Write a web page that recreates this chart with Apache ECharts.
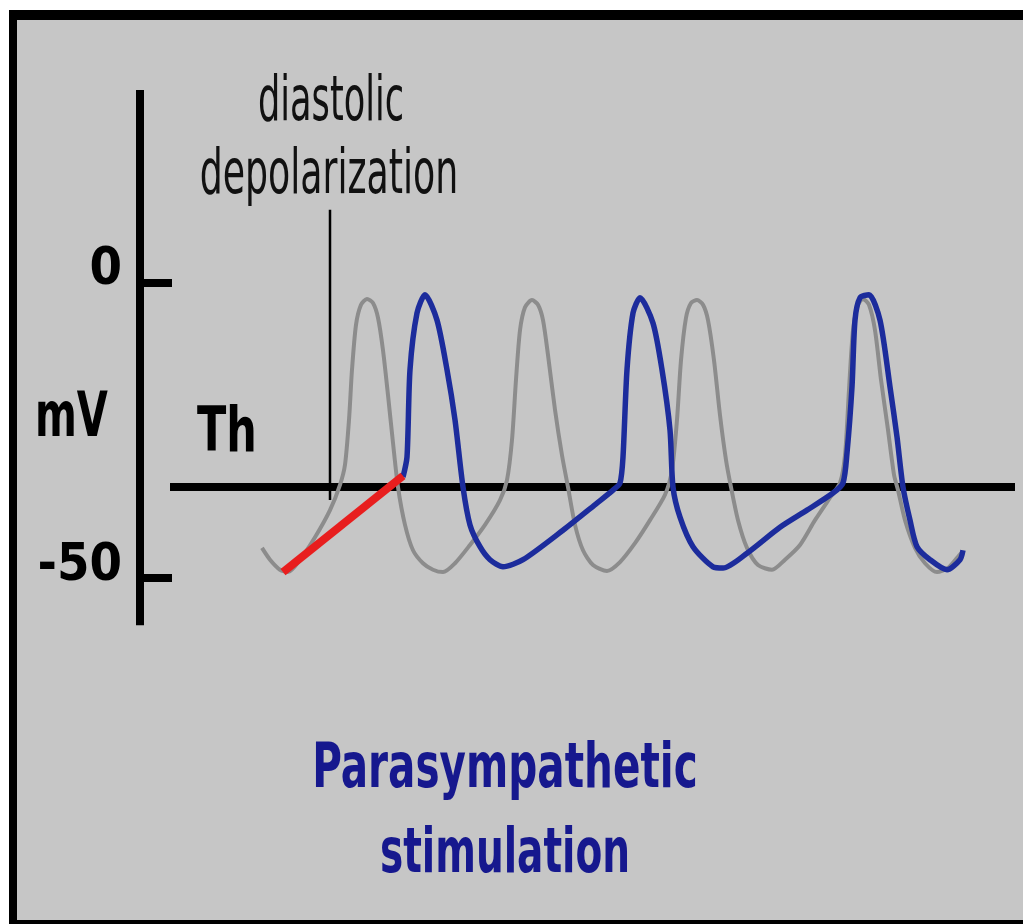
<!DOCTYPE html>
<html>
<head>
<meta charset="utf-8">
<style>
  html, body { margin: 0; padding: 0; background: #fff; }
  #main { width: 1023px; height: 924px; }
</style>
</head>
<body>
<div id="main"></div>
<script src="https://cdn.jsdelivr.net/npm/echarts@6/dist/echarts.min.js"></script>
<script type="text/javascript">
    // time (arbitrary units) and membrane potential (mV)
    var normalTrace = [
        [122,-44.9],[130,-46.9],[140,-48.6],[148,-49.0],[160,-46.9],[175,-43.1],[190,-38.5],[200,-34.2],
        [205,-30.8],[209,-23.2],[212,-14.7],[216,-7.1],[221,-3.7],[227,-2.7],[233,-3.4],[238,-5.9],
        [243,-11.4],[248,-19.0],[253,-27.1],[258,-34.6],[265,-41.0],[273,-45.3],[283,-47.5],[293,-48.6],
        [303,-49.0],[315,-47.5],[330,-44.4],[345,-41.0],[360,-36.8],[367,-33.4],[372,-26.6],[376,-16.4],
        [380,-8.0],[385,-4.1],[392,-2.9],[398,-3.7],[403,-6.3],[408,-12.2],[415,-21.5],[422,-29.2],
        [428,-34.6],[435,-41.0],[443,-45.3],[453,-47.8],[467,-48.8],[480,-47.3],[495,-44.1],[510,-40.2],
        [525,-35.9],[532,-31.7],[537,-23.2],[541,-13.1],[546,-5.9],[551,-3.4],[557,-2.9],[563,-3.7],
        [568,-6.3],[574,-13.1],[580,-22.4],[586,-30.0],[591,-34.6],[598,-40.2],[607,-44.9],[618,-47.8],
        [632,-48.6],[645,-46.9],[660,-44.4],[675,-40.2],[690,-36.4],[700,-33.9],[705,-29.2],[709,-18.1],
        [713,-8.0],[718,-3.7],[723,-2.7],[729,-3.7],[735,-8.0],[741,-16.4],[748,-24.9],[754,-32.5],
        [758,-35.1],[765,-40.2],[775,-44.9],[785,-47.5],[797,-49.0],[808,-48.3],[818,-46.4],[823,-45.5]
    ];
    var diastolicSlope = [[143,-49.0],[263,-32.7]];
    var vagalTrace = [
        [263,-32.9],[267,-29.5],[270,-14.7],[277,-5.1],[285,-2.0],[297,-6.3],[307,-14.7],[315,-23.2],
        [323,-34.6],[330,-41.0],[340,-44.7],[350,-46.9],[363,-48.1],[383,-46.9],[423,-41.9],[457,-37.3],
        [473,-35.1],[480,-33.9],[483,-29.5],[487,-14.7],[493,-5.1],[500,-2.5],[513,-6.8],[522,-14.7],
        [530,-24.9],[533,-34.6],[540,-39.7],[553,-44.7],[573,-48.1],[583,-48.3],[607,-45.8],[640,-41.4],
        [667,-38.5],[693,-35.6],[703,-33.9],[707,-28.8],[712,-17.6],[715,-6.3],[720,-2.5],[729,-2.0],
        [740,-6.3],[750,-17.6],[757,-26.1],[763,-34.6],[770,-40.2],[777,-44.7],[790,-46.9],[807,-48.6],
        [820,-46.9],[823,-45.3]
    ];
    var thresholdLine = [[30,-34.6],[875,-34.6]];
    var markerLine = [[190,12.4],[190,-36.8]];
    var tickValues = [0, -50];

    var narrow = "'DejaVu Sans Condensed', 'DejaVu Sans', sans-serif";

    // squeezed text label, y is the middle of the line box
    function label(txt, x, y, size, sx, bold, color, align) {
        return {
            type: 'text', z: 10, x: x, y: y, scaleX: sx,
            style: {
                text: txt,
                font: (bold ? 'bold ' : '') + size + 'px ' + narrow,
                fill: color,
                textAlign: align,
                textVerticalAlign: 'middle'
            }
        };
    }

    var myChart = echarts.init(document.getElementById('main'));
    var option = {
        backgroundColor: '#ffffff',
        animation: false,
        grid: { left: 140, right: 8, top: 90, bottom: 298.8 },
        xAxis: { type: 'value', min: 0, max: 875, show: false },
        yAxis: {
            type: 'value',
            min: -58,
            max: 32.7,
            splitLine: { show: false },
            axisLine: { show: true, lineStyle: { color: '#000', width: 8, cap: 'butt' } },
            axisTick: { show: true, inside: true, length: 32, customValues: tickValues,
                lineStyle: { color: '#000', width: 8 } },
            axisLabel: { customValues: tickValues, margin: 18, color: '#000',
                fontFamily: narrow, fontWeight: 'bold', fontSize: 52,
                verticalAlign: 'bottom', lineHeight: 24 }
        },
        graphic: [
            { type: 'rect', z: -10, shape: { x: 9, y: 10, width: 1014, height: 914 }, style: { fill: '#000' } },
            { type: 'rect', z: -9, shape: { x: 17, y: 20, width: 1006, height: 900 }, style: { fill: '#c6c6c6' } },
            label('diastolic', 331, 104, 62, 0.63, false, '#111', 'center'),
            label('depolarization', 329, 177, 62, 0.65, false, '#111', 'center'),
            label('mV', 35, 420, 62, 0.72, true, '#000', 'left'),
            label('Th', 197, 435, 62, 0.77, true, '#000', 'left'),
            label('Parasympathetic', 505, 770.5, 62, 0.727, true, '#16188e', 'center'),
            label('stimulation', 505, 855.5, 62, 0.70, true, '#16188e', 'center')
        ],
        series: [
            { type: 'line', data: thresholdLine, symbol: 'none', z: 1,
                lineStyle: { color: '#000', width: 8 } },
            { type: 'line', data: markerLine, symbol: 'none', z: 1,
                lineStyle: { color: '#000', width: 2.5 } },
            { type: 'line', data: normalTrace, symbol: 'none', smooth: 0.25, z: 3,
                lineStyle: { color: '#8c8c8c', width: 4 } },
            { type: 'line', data: vagalTrace, symbol: 'none', smooth: 0.25, z: 4,
                lineStyle: { color: '#1c2c9c', width: 5.5 } },
            { type: 'line', data: diastolicSlope, symbol: 'none', z: 5,
                lineStyle: { color: '#e81e1e', width: 8 } }
        ]
    };
    myChart.setOption(option);
</script>
</body>
</html>
